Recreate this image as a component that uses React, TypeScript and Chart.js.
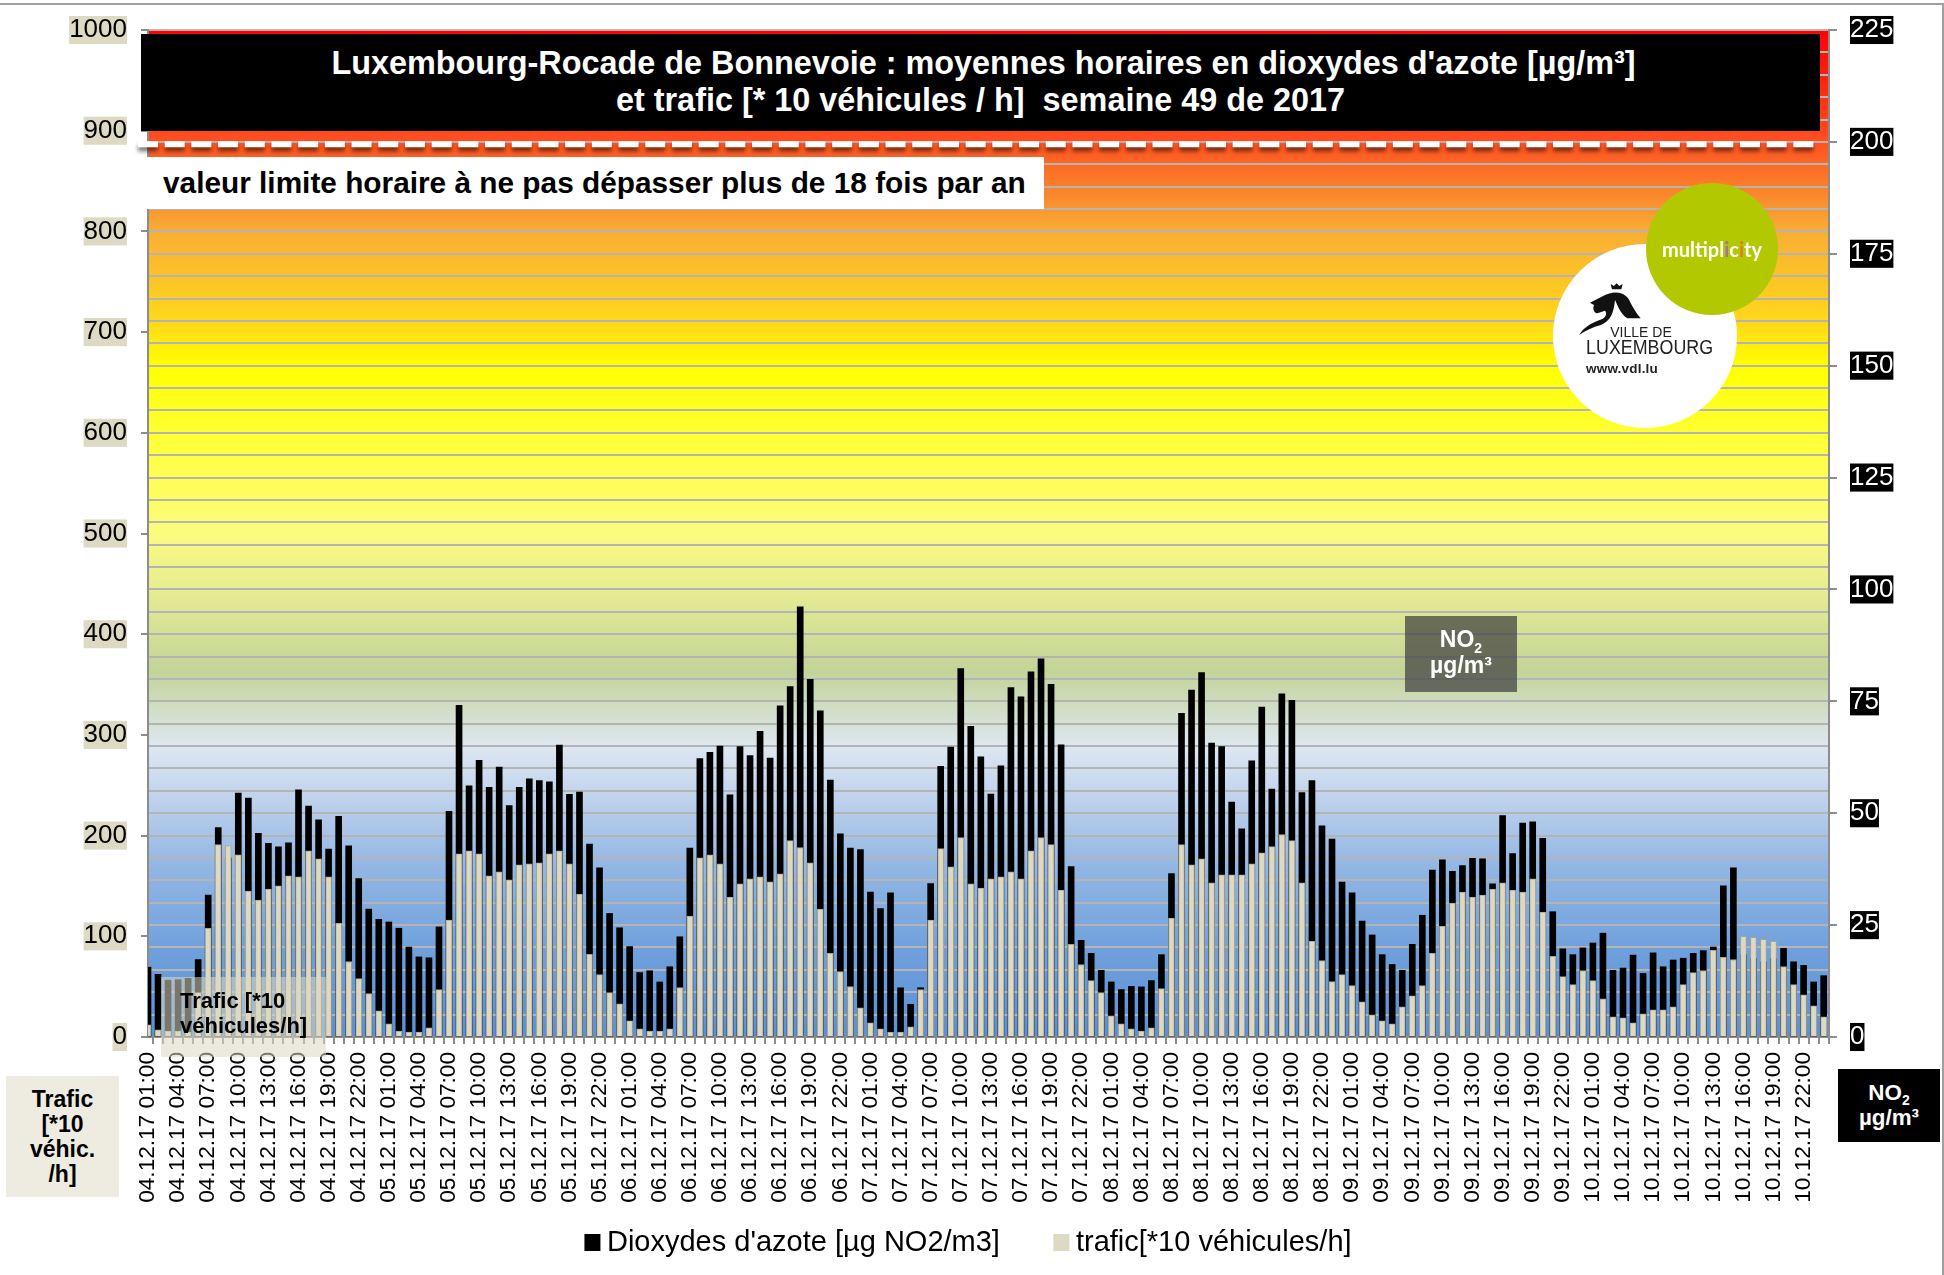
import React, { useEffect, useRef } from "react";
import { Chart, registerables } from "chart.js";

Chart.register(...registerables);

const days = ["04.12.17", "05.12.17", "06.12.17", "07.12.17", "08.12.17", "09.12.17", "10.12.17"];
const hours = ["01:00","02:00","03:00","04:00","05:00","06:00","07:00","08:00","09:00","10:00","11:00","12:00","13:00","14:00","15:00","16:00","17:00","18:00","19:00","20:00","21:00","22:00","23:00","00:00"];
const categories = days.flatMap((d) => hours.map((h) => `${d} ${h}`));

const no2Values = [
  15.6,14.0,12.7,12.8,13.1,17.3,31.7,46.8,40.0,54.5,53.4,45.5,43.3,42.5,43.4,55.2,51.6,48.5,42.0,49.3,42.7,35.4,28.6,26.3,
  25.7,24.3,20.1,17.9,17.7,24.6,50.4,74.1,56.1,61.8,55.8,60.3,51.7,55.8,57.7,57.3,57.0,65.2,54.2,54.7,43.1,37.8,27.6,24.4,
  20.2,14.4,14.8,12.3,15.7,22.4,42.2,62.2,63.6,65.0,54.1,64.9,62.9,68.3,62.3,74.0,78.3,96.1,79.9,72.9,57.4,45.4,42.2,41.9,
  32.4,28.7,32.2,11.0,7.3,11.0,34.3,60.5,64.8,82.3,69.4,62.6,54.3,60.6,78.1,76.0,81.6,84.5,78.8,65.3,38.1,21.6,18.7,14.9,
  12.3,10.6,11.3,11.2,12.6,18.4,36.5,72.3,77.5,81.4,65.7,64.9,52.5,46.5,61.7,73.7,55.4,76.7,75.2,54.6,57.3,47.2,44.2,34.6,
  32.2,25.9,22.8,18.4,16.2,14.9,20.7,27.2,37.3,39.6,37.0,38.3,39.9,39.8,34.2,49.5,41.0,47.8,48.1,44.4,28.0,19.7,18.4,19.9,
  21.0,23.2,14.9,15.4,18.3,14.2,18.8,15.7,17.2,17.6,18.7,19.3,20.1,33.8,37.8,18.4,17.5,16.8,17.5,19.8,16.8,16.0,12.3,13.7,
];
const trafficValues = [
  12,7,6,6,5,44,108,191,190,181,145,136,147,150,160,159,185,177,159,113,75,58,43,26,
  13,6,5,5,9,47,116,182,185,182,160,164,156,171,172,173,182,185,172,142,82,62,44,33,
  16,8,6,6,8,49,120,178,181,172,139,152,157,159,154,162,195,188,173,127,83,65,50,29,
  14,8,5,5,10,47,116,187,169,198,152,148,157,159,164,157,185,198,191,146,92,72,56,44,
  21,13,8,6,9,48,118,191,171,177,153,161,161,161,172,183,189,201,195,153,95,76,55,62,
  51,35,22,16,13,30,41,51,83,110,133,144,139,141,147,153,146,144,157,124,80,60,52,66,
  56,38,20,19,14,23,27,27,30,52,64,66,86,79,77,100,99,97,95,70,52,42,31,20,
];
const leftTicks = { min: 0, max: 1000, step: 100 };
const rightTicks = { min: 0, max: 225, step: 5, labelled: 25 };
const limitNO2 = 199.5;
const limitSpan = [-1, 166];
const gradientStops: [number, string][] = [
  [0, "#FF0000"], [0.11, "#FF5020"], [0.2, "#F8AE35"], [0.29, "#FFD81A"], [0.333, "#FFFF00"],
  [0.418, "#FFFF40"], [0.5, "#FBFB80"], [0.557, "#E6EC92"], [0.637, "#C3D499"], [0.711, "#DEE7F1"],
  [0.766, "#BDD1EC"], [0.826, "#95B8E4"], [0.915, "#6FA0DC"], [1, "#5A90D8"],
];

const FONT = "'Liberation Sans', Arial, sans-serif";
const BEIGE = "#DDD9C3";
const AXIS = "#8C8C8C";

const plotBackdrop = {
  id: "plotBackdrop",
  afterLayout(chart: any) {
    // the rotated hour labels run past the axis box: let them draw down to the legend
    chart.scales.x.bottom = chart.height - 60;
  },
  beforeDraw(chart: any) {
    const { ctx, chartArea: a } = chart;
    const g = ctx.createLinearGradient(0, a.top, 0, a.bottom);
    gradientStops.forEach(([o, c]) => g.addColorStop(o, c));
    ctx.save();
    ctx.fillStyle = g;
    ctx.fillRect(a.left, a.top, a.right - a.left, a.bottom - a.top);
    ctx.restore();
  },
  beforeDatasetDraw(chart: any, args: any) {
    if (args.meta.type === "line") {
      const ctx = chart.ctx;
      ctx.save();
      ctx.shadowColor = "rgba(0,0,0,0.55)";
      ctx.shadowBlur = 4;
      ctx.shadowOffsetY = 4;
    }
  },
  afterDatasetDraw(chart: any, args: any) {
    if (args.meta.type === "line") chart.ctx.restore();
  },
};

const box = (s: React.CSSProperties): React.CSSProperties => ({ position: "absolute", fontFamily: FONT, ...s });

export default function App() {
  const ref = useRef<HTMLCanvasElement>(null);
  useEffect(() => {
    const chart = new Chart(ref.current!, {
      data: {
        datasets: [
          {
            type: "bar",
            label: "Dioxydes d'azote [µg NO2/m3]",
            data: no2Values.map((y, x) => ({ x, y })),
            yAxisID: "y1",
            backgroundColor: "#000000",
            borderWidth: 0,
            barThickness: 6,
            grouped: false,
            order: 3,
          },
          {
            type: "bar",
            label: "trafic[*10 véhicules/h]",
            data: trafficValues.map((y, x) => ({ x, y })),
            yAxisID: "y",
            backgroundColor: BEIGE,
            borderColor: "#A8A592",
            borderWidth: 1,
            borderSkipped: "bottom",
            barThickness: 6,
            grouped: false,
            order: 2,
          },
          {
            type: "line",
            label: "limit",
            data: limitSpan.map((x) => ({ x, y: limitNO2 })),
            yAxisID: "y1",
            borderColor: "#FFFFFF",
            borderWidth: 6,
            borderDash: [20, 6.7],
            pointRadius: 0,
            clip: false,
            order: 1,
          },
        ],
      } as any,
      options: {
        responsive: false,
        animation: false,
        parsing: { xAxisKey: "x", yAxisKey: "y" },
        layout: { padding: { left: 0, right: 0, top: 30, bottom: 8 } },
        plugins: {
          title: { display: false },
          tooltip: { enabled: false },
          legend: {
            display: true,
            position: "bottom",
            labels: {
              color: "#000",
              font: { family: FONT, size: 29 },
              boxWidth: 0.01,
              boxHeight: 1,
              padding: 61.5,
              generateLabels(c: any) {
                return c.data.datasets.slice(0, 2).map((d: any, i: number) => ({
                  text: d.label,
                  fillStyle: d.backgroundColor,
                  strokeStyle: i === 0 ? "#000" : "#DDD9C3",
                  lineWidth: 16,
                  datasetIndex: i,
                }));
              },
            },
          },
        },
        scales: {
          x: {
            type: "linear",
            bounds: "data",
            min: 0,
            max: 167.53,
            offset: false,
            afterFit(s: any) { s.height = 129.5; },
            grid: { drawOnChartArea: false, drawTicks: true, tickLength: 7, color: AXIS, lineWidth: 2 },
            border: { color: AXIS, width: 2 },
            ticks: {
              stepSize: 1,
              autoSkip: false,
              includeBounds: false,
              minRotation: 90,
              maxRotation: 90,
              padding: 8,
              color: "#000",
              font: { family: FONT, size: 22.6 },
              callback: (v: number) => (Number.isInteger(v) && v % 3 === 0 ? categories[v] : ""),
            },
          },
          y: {
            position: "left",
            min: leftTicks.min,
            max: leftTicks.max,
            afterFit(s: any) { s.width = 148; },
            grid: { drawOnChartArea: false, tickLength: 7, color: AXIS, lineWidth: 2 },
            border: { color: AXIS, width: 2 },
            ticks: {
              stepSize: leftTicks.step,
              autoSkip: false,
              padding: 14,
              color: "#000",
              font: { family: FONT, size: 26, lineHeight: 1.08 },
              showLabelBackdrop: true,
              backdropColor: BEIGE,
              backdropPadding: 0,
              callback: (v: number) => String(v),
            },
          },
          y1: {
            position: "right",
            min: rightTicks.min,
            max: rightTicks.max,
            afterFit(s: any) { s.width = 115; },
            grid: {
              drawOnChartArea: true,
              tickLength: 8,
              color: "#B4B4B4",
              lineWidth: 2,
              tickColor: (c: any) => (c.tick && c.tick.value % rightTicks.labelled === 0 ? AXIS : "rgba(0,0,0,0)"),
            },
            border: { color: AXIS, width: 2 },
            ticks: {
              stepSize: rightTicks.step,
              autoSkip: false,
              padding: 13,
              color: "#FFF",
              font: { family: FONT, size: 26, lineHeight: 1.08 },
              showLabelBackdrop: true,
              backdropColor: "#000",
              backdropPadding: 0,
              callback: (v: number) => (v % rightTicks.labelled === 0 ? String(v) : ""),
            },
          },
        },
      } as any,
      plugins: [plotBackdrop],
    });
    return () => chart.destroy();
  }, []);

  return (
    <div style={{ position: "absolute", left: 0, top: 0, width: 1944, height: 1275, overflow: "hidden", background: "#fff" }}>
      <canvas ref={ref} width={1944} height={1275} style={{ position: "absolute", left: 0, top: 0, display: "block", width: 1944, height: 1275 }} />
      <div style={{ position: "absolute", left: -3, top: 3, width: 1945, height: 1280, borderTop: "2px solid #A0A0A0", borderRight: "2px solid #A0A0A0" }} />

      {/* Title */}
      <div style={box({ left: 141, top: 34, width: 1679, height: 97, background: "#000", color: "#fff", fontWeight: 700, fontSize: 32.4, lineHeight: "37px", textAlign: "center", paddingTop: 11, boxSizing: "border-box", whiteSpace: "pre" })}>
        <span style={{ position: "relative", left: 3 }}>Luxembourg-Rocade de Bonnevoie : moyennes horaires en dioxydes d'azote [µg/m³]</span>
        {"\net trafic [* 10 véhicules / h]  semaine 49 de 2017"}
      </div>

      {/* Limit caption */}
      <div style={box({ left: 140, top: 157, width: 904, height: 52, background: "#fff", color: "#000", fontWeight: 700, fontSize: 29.8, lineHeight: "52px", paddingLeft: 23, boxSizing: "border-box", whiteSpace: "pre" })}>
        valeur limite horaire à ne pas dépasser plus de 18 fois par an
      </div>

      {/* Logos */}
      <div style={{ position: "absolute", left: 1553, top: 244, width: 184, height: 184, borderRadius: "50%", background: "#fff" }} />
      <svg style={{ position: "absolute", left: 1520, top: 270 }} width={220} height={130} viewBox="0 0 660 390">
        <path d="M245 80 C290 55 320 70 330 95 C340 115 350 130 362 145 L322 145 C300 130 295 110 285 90 C280 135 270 160 225 170 C205 178 190 185 178 195 C190 170 225 155 245 148 C258 142 262 130 255 122 L232 130 C220 128 218 115 222 105 L210 98 Z" fill="#111" />
        <path d="M272 42 L282 48 L290 40 L298 48 L308 42 L304 58 L276 58 Z" fill="#111" />
      </svg>
      <div style={box({ left: 1583, top: 323, width: 116, textAlign: "center", fontSize: 14, lineHeight: "18px", color: "#222", whiteSpace: "pre" })}>VILLE DE</div>
      <div style={box({ left: 1575, top: 334, width: 148, textAlign: "center", fontSize: 21, lineHeight: "26px", color: "#222", whiteSpace: "pre", transform: "scaleX(0.85)" })}>LUXEMBOURG</div>
      <div style={box({ left: 1586, top: 361, fontSize: 13.5, lineHeight: "16px", fontWeight: 700, color: "#222", whiteSpace: "pre", letterSpacing: 0.2 })}>www.vdl.lu</div>
      <div style={{ position: "absolute", left: 1646, top: 183, width: 132, height: 132, borderRadius: "50%", background: "#B2C800" }} />
      <div style={box({ left: 1646, top: 236, width: 132, textAlign: "center", fontFamily: "Lato, sans-serif", fontWeight: 700, fontSize: 20, lineHeight: "26px", color: "#fff", whiteSpace: "pre" })}>
        mult<span style={{ color: "#C0207A" }}>i</span>pl<span style={{ color: "#A070A8" }}>i</span>c<span style={{ color: "#E07A30" }}>i</span>ty
      </div>

      {/* Chart annotations */}
      <div style={box({ left: 1405, top: 616, width: 112, height: 76, background: "rgba(64,64,64,0.72)", color: "#fff", fontWeight: 700, fontSize: 23, lineHeight: "26px", textAlign: "center", paddingTop: 10, boxSizing: "border-box" })}>
        NO<sub style={{ fontSize: 14, lineHeight: 0 }}>2</sub><br />µg/m³
      </div>
      <div style={box({ left: 161, top: 977, width: 165, height: 80, background: "rgba(221,217,195,0.55)", color: "#000", fontWeight: 700, fontSize: 22, lineHeight: "25px", paddingLeft: 19, paddingTop: 11, boxSizing: "border-box", whiteSpace: "pre" })}>
        {"Trafic [*10\nvéhicules/h]"}
      </div>
      <div style={box({ left: 6, top: 1076, width: 113, height: 121, background: "#EEECE1", color: "#000", fontWeight: 700, fontSize: 23, lineHeight: "25px", textAlign: "center", paddingTop: 11, boxSizing: "border-box", whiteSpace: "pre" })}>
        {"Trafic\n[*10\nvéhic.\n/h]"}
      </div>
      <div style={box({ left: 1838, top: 1069, width: 102, height: 73, background: "#000", color: "#fff", fontWeight: 700, fontSize: 22.4, lineHeight: "25px", textAlign: "center", paddingTop: 11, boxSizing: "border-box" })}>
        NO<sub style={{ fontSize: 14, lineHeight: 0 }}>2</sub><br />µg/m³
      </div>
    </div>
  );
}
